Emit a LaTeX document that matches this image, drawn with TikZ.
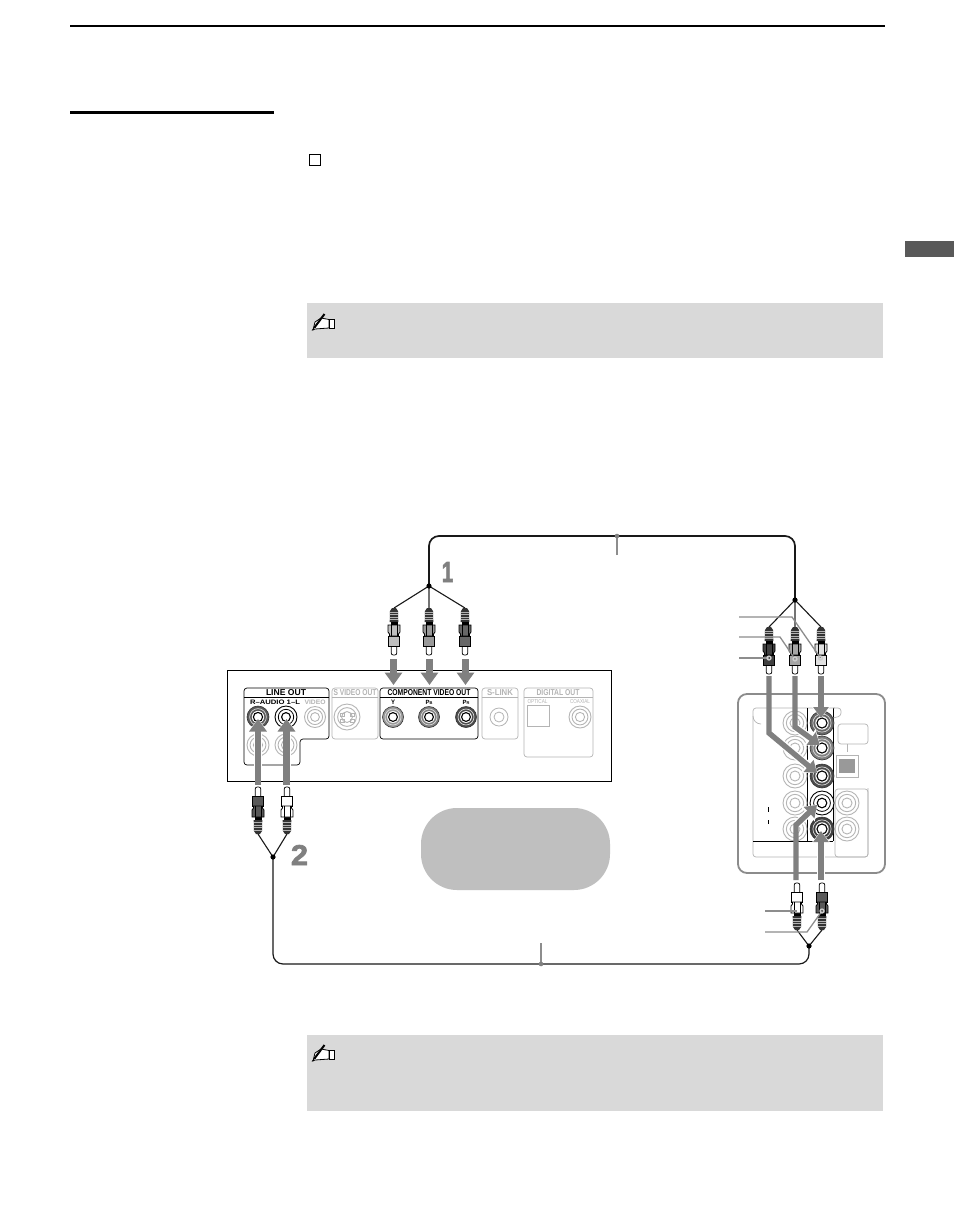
\documentclass[tikz,border=0pt]{standalone}
\usepackage{fontspec}
\usepackage{graphicx}
\setmainfont{Liberation Sans}
\newfontfamily\numfont[BoldFeatures={FakeBold=2.5,FakeStretch=1.15}]{Liberation Sans}
\usetikzlibrary{arrows.meta}
\definecolor{arrowgray}{HTML}{808080}
\definecolor{notegray}{HTML}{D9D9D9}
\definecolor{faint}{HTML}{B4B4B4}
\tikzset{
  x=1pt,y=-1pt,
  bigarrow/.style={draw=arrowgray,line width=6.6pt,-{Triangle[width=17pt,length=12.5pt]},miter limit=10},
  rightarrow/.style={draw=arrowgray,line width=5.4pt,-{Triangle[width=15pt,length=11pt]},miter limit=10},
  arrowhalo/.style={draw=white,line width=8pt,-{Triangle[width=20pt,length=13pt]}},
  cable/.style={draw=black!90,line width=1.7pt,rounded corners=10pt},
  thincable/.style={draw=black!90,line width=1.2pt,rounded corners=10pt},
  wire/.style={draw=black!90,line width=1.1pt},
  pointer/.style={draw=arrowgray!90,line width=1.3pt,line join=round},
  blackbox/.style={draw=black,line width=.7pt,rounded corners=3pt},
  faintbox/.style={draw=faint,line width=.7pt,rounded corners=3pt},
  notebox/.style={fill=notegray,draw=none},
  lbl/.style={inner sep=0pt,outer sep=0pt,text=black},
  flbl/.style={inner sep=0pt,outer sep=0pt,text=faint},
  bignum/.style={inner sep=0pt,text=arrowgray,font=\numfont\fontsize{28}{28}\selectfont\bfseries},
}
% plug: x, y of the cable end, direction (1 = pin down, -1 = pin up), body colour
\newcommand{\plug}[4]{%
  \begin{scope}[shift={(#1,#2)},yscale=#3]
    \fill[black!80] (-2,0) -- (2,0) -- (4,3) -- (4.3,14) -- (-4.3,14) -- (-4,3) -- cycle;
    \foreach \r in {4,6.5,9,11.5}{\draw[white!70!black,line width=.8pt] (-4.3,\r) -- (4.3,\r);}
    \draw[black,fill=white,line width=.7pt,rounded corners=2pt] (-2.8,37) -- (-2.8,47) -- (2.8,47) -- (2.8,37);
    \fill[black] (-3.5,14) rectangle (3.5,17);
    \draw[black,fill=#4,line width=.8pt] (-5.3,28) rectangle (5.3,38);
    \draw[black,fill=#4,line width=.8pt] (-6,17) -- (6,17) -- (6,24) -- (4.5,26) -- (4.5,28) -- (-4.5,28) -- (-4.5,26) -- (-6,24) -- cycle;
    \draw[black,line width=.8pt] (-3,17) -- (-3,28) (3,17) -- (3,28);
  \end{scope}}
% jacks: x, y, radius
\newcommand{\faintjack}[3]{%
  \draw[faint,line width=.9pt] (#1,#2) circle (#3);
  \draw[faint,line width=.9pt] (#1,#2) circle (#3*.72);
  \draw[faint,line width=.9pt] (#1,#2) circle (#3*.42);}
\newcommand{\colourjack}[4]{%
  \fill[#4] (#1,#2) circle (#3);
  \draw[black!80,line width=.6pt] (#1,#2) circle (#3);
  \draw[white!85!black,line width=.7pt] (#1,#2) circle (#3*.76);
  \fill[white] (#1,#2) circle (#3*.56);
  \draw[black,line width=1.1pt] (#1,#2) circle (#3*.42);}
\newcommand{\whitejack}[3]{%
  \draw[black,line width=.9pt,fill=white] (#1,#2) circle (#3);
  \draw[black,line width=.8pt] (#1,#2) circle (#3*.7);
  \draw[black,line width=1.1pt] (#1,#2) circle (#3*.4);}
\newcommand{\notehand}[2]{%
  \begin{scope}[shift={(#1,#2)}]
    \draw[black,fill=white,line width=.8pt,line join=round] (1,17) -- (3,9) -- (9,5) -- (17,6.5) -- (17,15) -- (3,16) -- cycle;
    \draw[black,fill=white,line width=.8pt] (17,6) rectangle (22.5,15);
    \draw[black,line width=2pt] (2.5,14.5) -- (12.5,1);
    \draw[black,line width=.7pt] (0,17.5) -- (3,14);
  \end{scope}}
\begin{document}
\begin{tikzpicture}
\useasboundingbox (0,0) rectangle (954,1221);
\fill[white] (0,0) rectangle (954,1221);

% page furniture
\draw[black,line width=1.5pt] (70,26) -- (885,26);
\draw[black,line width=3.5pt] (70,112.5) -- (274,112.5);
\draw[black,line width=.9pt] (309.5,154.5) rectangle (320.5,165.5);
\fill[black!65] (905,241) rectangle (954,257);
\fill[notebox] (307,303) rectangle (883,358);
\fill[notebox] (307,1035) rectangle (883,1111);
\notehand{312}{313}
\notehand{312}{1044}

% grey blob
\fill[black!25,rounded corners=36pt] (421,808) rectangle (610,890);

% DVD player panel
\draw[black,line width=.9pt] (227,670) rectangle (611,781);
\draw[blackbox] (244,688) -- (329,688) -- (329,739) -- (300,739) -- (300,765) -- (244,765) -- cycle;
\draw[black,line width=.7pt] (244,697) -- (329,697);
\draw[faintbox] (332,688) rectangle (378,739);
\draw[faint,line width=.7pt] (332,697) -- (378,697);
\draw[blackbox] (380,688) rectangle (478,739);
\draw[black,line width=.7pt] (380,697) -- (478,697);
\draw[faintbox] (482,688) rectangle (518,739);
\draw[faint,line width=.7pt] (482,697) -- (518,697);
\draw[faintbox] (524,688) rectangle (593,757);
\draw[faint,line width=.7pt] (524,697) -- (593,697);

\node[lbl] (lineout) at (286,692.5) {\resizebox{40pt}{6pt}{\bfseries LINE OUT}};
\node[flbl] (svideo) at (355,692.5) {\resizebox{43pt}{6pt}{\bfseries S VIDEO OUT}};
\node[lbl] (compout) at (429,692.5) {\resizebox{83pt}{6pt}{\bfseries COMPONENT VIDEO OUT}};
\node[flbl] (slink) at (500,692.5) {\resizebox{26pt}{6pt}{\bfseries S-LINK}};
\node[flbl] (digout) at (558,692.5) {\resizebox{43pt}{6pt}{\bfseries DIGITAL OUT}};
\node[lbl] (raudio) at (275,702) {\resizebox{50pt}{4.5pt}{\bfseries R–AUDIO 1–L}};
\node[flbl] (videolab) at (315,702) {\resizebox{21pt}{4.5pt}{\bfseries VIDEO}};
\node[lbl] (ylab) at (393,702) {\resizebox{4pt}{4.5pt}{\bfseries Y}};
\node[lbl] (pblab) at (429,702) {\bfseries\fontsize{6}{6}\selectfont P\raisebox{0pt}{\fontsize{4}{4}\selectfont B}};
\node[lbl] (prlab) at (466,702) {\bfseries\fontsize{6}{6}\selectfont P\raisebox{0pt}{\fontsize{4}{4}\selectfont R}};
\node[flbl] (optlab) at (537.5,702) {\resizebox{20pt}{4pt}{OPTICAL}};
\node[flbl] (coaxlab) at (580,702) {\resizebox{20pt}{4pt}{COAXIAL}};

\colourjack{258}{717}{11}{black!65}
\whitejack{286}{717}{11}
\faintjack{315}{717}{10.5}
\faintjack{258}{745}{11}
\faintjack{286}{745}{11}
\faintjack{347}{717}{13}
\foreach \a/\b in {-7/-4,3/-4,-7/2,3/2}{\draw[faint,line width=.7pt] (347+\a,717+\b) rectangle +(4,3);}
\colourjack{393}{717}{10.5}{black!40}
\colourjack{429}{717}{10.5}{black!50}
\colourjack{466}{717}{10.5}{black!70}
\draw[faint,line width=.8pt] (499,717) circle (9);
\draw[faint,line width=.8pt] (499,717) circle (5);
\draw[faint,line width=.8pt] (527,705) rectangle (549,726);
\faintjack{580}{717}{11}

% TV panel
\draw[draw=black!45,line width=1.8pt,rounded corners=9pt] (738,694) rectangle (885,873);
\draw[faintbox] (753,708) rectangle (868,857);
\draw[faint,line width=.7pt] (753,716) arc[start angle=180,end angle=270,radius=8pt];
\draw[black,line width=.9pt] (807,708) -- (807,841);
\draw[black,line width=.9pt] (833,708) -- (833,841);
\draw[black,line width=.9pt] (753,841) -- (833,841);
\fill[white] (835,706) rectangle (870,788);
\draw[faintbox] (833,708) -- (841,708) -- (841,716) -- (833,718);
\draw[faintbox] (838,724) rectangle (868,744);
\draw[faint,line width=.7pt] (847,744) -- (847,752);
\draw[faint,line width=.9pt] (836,755) rectangle (858,777);
\fill[black!40] (839,759) rectangle (855,773);
\draw[faintbox] (835,789) rectangle (868,857);
\draw[black,line width=.7pt] (768,807) -- (768,812);
\draw[black,line width=.7pt] (768,820) -- (768,824);
\foreach \y in {723,748,776,803,829}{\faintjack{795}{\y}{12}}
\foreach \y in {803,829}{\faintjack{847}{\y}{12}}
\colourjack{822}{723}{12}{black!60}
\colourjack{822}{748}{12}{black!50}
\colourjack{822}{776}{12}{black!70}
\whitejack{822}{803}{12}
\colourjack{822}{829}{12}{black!75}

% arrows into the panels
\coordinate (dA) at (393.5,659); \coordinate (dAe) at (393.5,685);
\coordinate (dB) at (429.5,659); \coordinate (dBe) at (429.5,685);
\coordinate (dC) at (465.5,659); \coordinate (dCe) at (465.5,685);
\draw[bigarrow] (dA) -- (dAe);
\draw[bigarrow] (dB) -- (dBe);
\draw[bigarrow] (dC) -- (dCe);

\coordinate (uA) at (258,785); \coordinate (uAe) at (258,719);
\coordinate (uB) at (286.5,785); \coordinate (uBe) at (286.5,719);
\draw[arrowhalo] (258,781) -- (uAe);
\draw[arrowhalo] (286.5,781) -- (uBe);
\draw[bigarrow] (uA) -- (uAe);
\draw[bigarrow] (uB) -- (uBe);

\coordinate (rA) at (821,676); \coordinate (rAe) at (821,718);
\coordinate (rB) at (795,676); \coordinate (rBm) at (795,727); \coordinate (rBe) at (820,745);
\coordinate (rC) at (769,676); \coordinate (rCm) at (769,733); \coordinate (rCe) at (817,773);
\coordinate (rD) at (821,880); \coordinate (rDe) at (821,831);
\coordinate (rE) at (796,880); \coordinate (rEm) at (796,825); \coordinate (rEe) at (817,805);
\draw[arrowhalo] (rBm) -- (rBe);
\draw[arrowhalo] (rCm) -- (rCe);
\draw[arrowhalo] (821,875) -- (rDe);
\draw[arrowhalo] (rEm) -- (rEe);
\draw[arrowhalo] (821,695) -- (rAe);
\draw[rightarrow] (rA) -- (rAe);
\draw[rightarrow] (rB) -- (rBm) -- (rBe);
\draw[rightarrow] (rC) -- (rCm) -- (rCe);
\draw[rightarrow] (rD) -- (rDe);
\draw[rightarrow] (rE) -- (rEm) -- (rEe);

% cable 1
\coordinate (j1) at (429,586);
\coordinate (j2) at (795,600);
\coordinate (t1) at (394,608); \coordinate (t2) at (429,608); \coordinate (t3) at (465,608);
\coordinate (t4) at (769,627); \coordinate (t5) at (795,627); \coordinate (t6) at (821,627);
\draw[cable] (j1) -- (429,536) -- (795,536) -- (j2);
\draw[wire] (j1) -- (t1);
\draw[wire,draw=black!55] (j1) -- (t2);
\draw[wire] (j1) -- (t3);
\draw[wire] (j2) -- (t4);
\draw[wire,draw=black!55] (j2) -- (t5);
\draw[wire] (j2) -- (t6);
\fill[black] (j1) circle (2.6);
\fill[black] (j2) circle (2.6);
\plug{394}{608}{1}{black!25}
\plug{429}{608}{1}{black!40}
\plug{465}{608}{1}{black!60}
\plug{769}{627}{1}{black!75}
\plug{795}{627}{1}{black!35}
\plug{821}{627}{1}{black!12}

% cable 2
\coordinate (j3) at (273,857);
\coordinate (j4) at (809,946);
\coordinate (t7) at (258,834); \coordinate (t8) at (287,834);
\coordinate (t9) at (797,930); \coordinate (t10) at (822,930);
\draw[thincable] (j3) -- (273,964) -- (809,964) -- (j4);
\draw[wire] (j3) -- (t7);
\draw[wire] (j3) -- (t8);
\draw[wire] (j4) -- (t9);
\draw[wire] (j4) -- (t10);
\fill[black] (j3) circle (2.6);
\fill[black] (j4) circle (2.6);
\plug{258}{834}{-1}{black!65}
\plug{287}{834}{-1}{white}
\plug{797}{930}{-1}{white}
\plug{822}{930}{-1}{black!65}

% pointers
\coordinate (pA) at (617,555); \coordinate (pAe) at (617,536);
\draw[pointer] (pA) -- (pAe); \fill[arrowgray] (pAe) circle (2.3);
\coordinate (pB) at (541,943); \coordinate (pBe) at (541,964);
\draw[pointer] (pB) -- (pBe); \fill[arrowgray] (pBe) circle (2.3);
\coordinate (pC) at (739,617); \coordinate (pCe) at (820.5,658);
\draw[pointer] (pC) -- (792,617) -- (pCe);
\draw[pointer,draw=white!80!black] (pCe) circle (2);
\coordinate (pD) at (739,637); \coordinate (pDe) at (795,659);
\draw[pointer] (pD) -- (780,637) -- (pDe);
\draw[pointer,draw=white!80!black] (pDe) circle (2);
\coordinate (pE) at (739,658); \coordinate (pEe) at (769,658);
\draw[pointer] (pE) -- (pEe);
\draw[pointer,draw=white!80!black] (pEe) circle (2);
\coordinate (pF) at (765,911); \coordinate (pFe) at (797,911);
\draw[pointer] (pF) -- (pFe);
\coordinate (pG) at (765,932); \coordinate (pGe) at (822,911);
\draw[pointer] (pG) -- (807,932) -- (pGe);
\draw[pointer,draw=white!80!black] (pGe) circle (2);

% numbers
\node[bignum] (numone) at (447.5,572) {\resizebox{11.5pt}{20pt}{1}};
\node[bignum] (numtwo) at (299.5,855) {\resizebox{17pt}{20pt}{2}};
\end{tikzpicture}
\end{document}
